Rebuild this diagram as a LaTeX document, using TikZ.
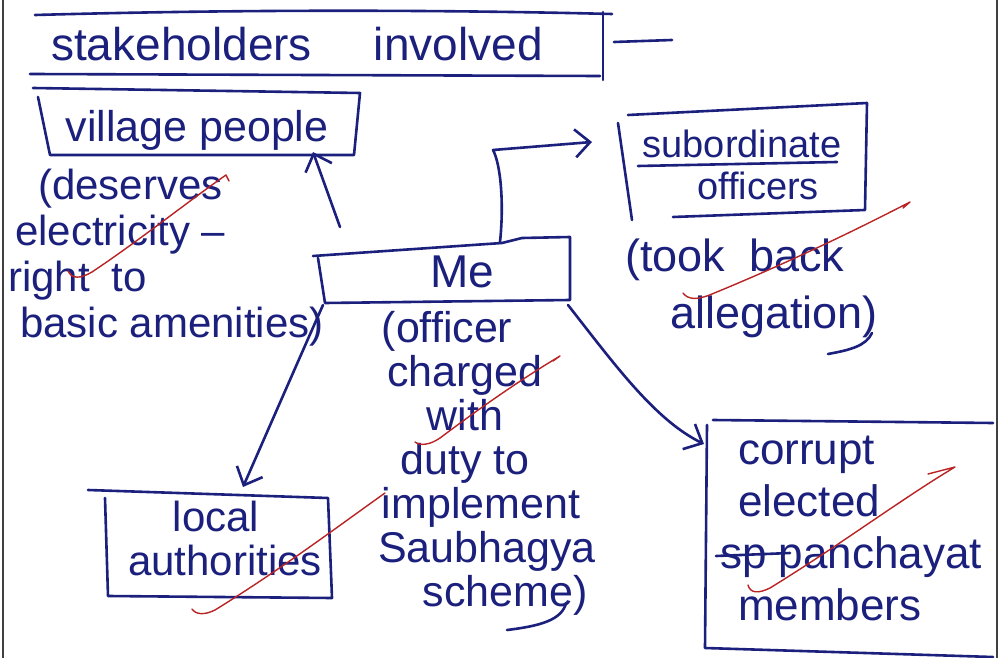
\documentclass[tikz,border=0pt]{standalone}
\usepackage{fontspec}
\setmainfont{Liberation Sans}
\usetikzlibrary{arrows.meta}
\definecolor{ink}{RGB}{28,32,125}
\definecolor{redink}{RGB}{185,35,35}
\begin{document}
\begin{tikzpicture}[x=1pt,y=-1pt,
  pen/.style={draw=ink, line width=2.6pt, line cap=round, line join=round},
  hand/.style={text=ink, inner sep=0pt, font=\fontsize{44}{46}\selectfont},
  link/.style={pen, -{Straight Barb[length=15pt,width=28pt]}},
  tick/.style={draw=redink, line width=1.4pt, line cap=round, line join=round},
  edge/.style={draw=black!75, line width=1.4pt}]
\useasboundingbox (0,0) rectangle (1002,658);
\fill[white] (0,0) rectangle (1002,658);
% sheet edges
\draw[edge] (3,0) -- (3,658);
\draw[edge] (997,0) -- (997,658);

% heading
\node[hand, font=\fontsize{46}{46}\selectfont] (title) at (297,44) {stakeholders\hspace{62pt}involved};
\draw[pen] (35,15) .. controls (250,9) and (450,10) .. (612,14);
\draw[pen] (30,74) -- (600,76);
\draw[pen] (603,12) -- (603,80);
\draw[pen] (614,42) -- (672,40);

% village people
\node[hand, font=\fontsize{43}{46}\selectfont] (village) at (197,130) {village people};
\draw[pen] (33,88) -- (360,93) -- (354,155) -- (50,155) -- (38,97);
\node[hand, font=\fontsize{42}{46}\selectfont, align=left, anchor=west] (deserves) at (8,258)
  {\hspace*{30pt}(deserves\\\hspace*{7pt}electricity –\\right\hspace{22pt}to\\\hspace*{12pt}basic amenities)};

% me
\node[hand, font=\fontsize{46}{46}\selectfont] (me) at (462,272) {Me};
\draw[pen] (313,256) -- (502,243) -- (522,238) -- (570,237) -- (570,300) -- (325,303) -- (318,258);
\node[hand, font=\fontsize{43}{44}\selectfont, align=center] (duty) at (465,463)
  {(officer\hspace*{36pt}\\charged\hspace*{18pt}\\with\hspace*{26pt}\\duty to\hspace*{50pt}\\
   \hspace*{32pt}implement\\\hspace*{44pt}Saubhagya\\\hspace*{80pt}scheme)};
\draw[pen] (566,603) .. controls (562,620) and (540,626) .. (507,630);

% subordinate officers
\node[hand, font=\fontsize{38}{42}\selectfont, align=center] (sub) at (742,165)
  {subordinate\\\hspace*{32pt}officers};
\draw[pen] (638,166) -- (837,162);
\draw[pen] (618,123) -- (632,220);
\draw[pen] (628,115) -- (867,103) -- (865,210) -- (673,217);
\node[hand, font=\fontsize{45}{57}\selectfont, align=left, anchor=west] (took) at (625,288)
  {(took\hspace{24pt}back\\\hspace*{45pt}allegation)};
\draw[pen] (872,333) .. controls (866,346) and (850,350) .. (828,354);

% local authorities
\node[hand, font=\fontsize{42}{44}\selectfont, align=center] (local) at (225,538)
  {local\hspace*{18pt}\\authorities};
\draw[pen] (88,490) -- (328,498) -- (332,598) -- (108,596) -- (105,498);

% corrupt panchayat members
\node[hand, font=\fontsize{44}{52}\selectfont, align=left, anchor=west] (corrupt) at (738,528)
  {corrupt\\elected\\\hspace*{-18pt}sp panchayat\\members};
\draw[pen] (716,556) -- (790,553);
\draw[pen] (713,420) -- (993,423);
\draw[pen] (707,425) -- (705,648) -- (993,657);

% connectors
\coordinate (meTop) at (500,242);
\coordinate (meSW) at (323,305);
\coordinate (meSE) at (568,305);
\coordinate (vpFoot) at (313,152);
\coordinate (subW) at (592,142);
\coordinate (locN) at (243,487);
\coordinate (corW) at (704,444);
\draw[link] (340,227) -- (vpFoot);
\draw[link] (meTop) .. controls (504,205) and (501,165) .. (493,150) -- (subW);
\draw[link] (meSW) .. controls (303,350) and (268,430) .. (locN);
\draw[link] (meSE) .. controls (615,365) and (655,420) .. (corW);

% red marks
\draw[tick] (68,271) .. controls (72,279) and (80,279) .. (92,272) .. controls (140,240) and (190,200) .. (226,175) -- (229,181);
\draw[tick] (683,293) .. controls (688,300) and (698,300) .. (712,294) .. controls (790,262) and (860,228) .. (910,202) -- (903,208);
\draw[tick] (415,442) .. controls (420,446) and (430,445) .. (440,438) .. controls (480,408) and (520,380) .. (560,356) -- (553,361);
\draw[tick] (192,609) .. controls (196,615) and (205,615) .. (215,610) .. controls (280,570) and (340,525) .. (385,493);
\draw[tick] (748,585) .. controls (750,593) and (758,594) .. (770,588) .. controls (840,545) and (900,500) .. (955,467) -- (928,474);
\end{tikzpicture}
\end{document}
